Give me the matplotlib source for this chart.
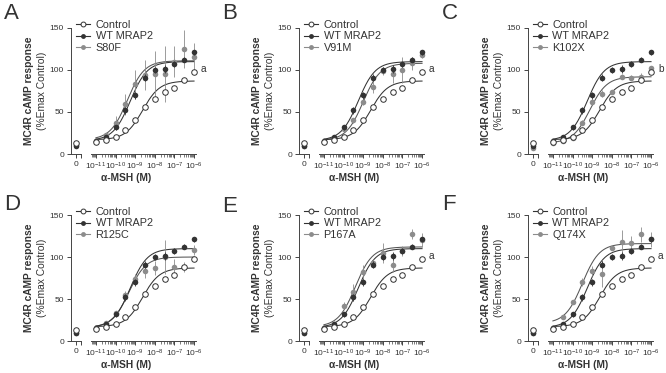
import numpy as np
import matplotlib
matplotlib.use('Agg')
import matplotlib.pyplot as plt
from matplotlib.lines import Line2D
from matplotlib.ticker import LogLocator, NullFormatter, FixedLocator

plt.rcParams['font.family'] = ['Liberation Sans', 'DejaVu Sans']
plt.rcParams['mathtext.fontset'] = 'custom'
plt.rcParams['mathtext.rm'] = 'Liberation Sans'
plt.rcParams['mathtext.bf'] = 'Liberation Sans:bold'

# ---------------- data ----------------
log_dose = [-11.0, -10.5, -10.0, -9.5, -9.0, -8.5, -8.0, -7.5, -7.0, -6.5, -6.0]

control = [14, 17, 20, 28, 41, 56, 66, 74, 79, 88, 98]
control_err = [1, 1, 1, 1, 2, 2, 1, 2, 1, 1, 1]
control_zero = 13
control_fit = (17, 87, -8.62)   # bottom, top, logEC50

wt = [15, 20, 32, 52, 70, 91, 100, 101, 107, 112, 121]
wt_err = [1, 2, 3, 4, 4, 4, 4, 5, 4, 3, 3]
wt_zero = 9
wt_fit = (16, 110, -9.25)

panel_letters = ['A', 'B', 'C', 'D', 'E', 'F']
mutant_names = ['S80F', 'V91M', 'K102X', 'R125C', 'P167A', 'Q174X']
mutant_values = [
    [16, 23, 37, 59, 83, 94, 95, 95, 110, 125, 115],
    [14, 18, 30, 40, 62, 80, 99, 95, 100, 108, 118],
    [13, 15, 19, 37, 62, 72, 74, 92, 91, 92, 102],
    [15, 21, 33, 55, 74, 83, 87, 100, 88, 88, 108],
    [16, 20, 42, 58, 82, 93, 105, 90, 107, 127, 120],
    [16, 28, 47, 70, 83, 80, 111, 118, 117, 127, 121],
]
mutant_errors = [
    [2, 2, 8, 12, 17, 18, 28, 33, 18, 23, 17],
    [1, 1, 2, 3, 4, 7, 5, 10, 15, 8, 4],
    [1, 1, 1, 3, 3, 4, 2, 3, 3, 4, 3],
    [1, 1, 3, 5, 6, 8, 8, 20, 10, 6, 6],
    [1, 1, 4, 10, 9, 5, 12, 8, 6, 6, 8],
    [1, 2, 2, 5, 6, 16, 3, 14, 8, 9, 9],
]
mutant_zero = [11, 10, 7, 9, 10, 9]
mutant_fits = [
    (17, 111, -9.4),
    (16, 108, -9.0),
    (13, 92, -9.12),
    (16, 100, -9.32),
    (17, 112, -9.4),
    (21, 116, -9.5),
]
annotations = ['a', 'a', 'b', '', 'a', 'a']

y_ticks = [0, 50, 100, 150]
x_tick_exps = [-11, -10, -9, -8, -7, -6]

# ---------------- layout (pixels) ----------------
W, H = 666, 373
fig = plt.figure(figsize=(W / 100, H / 100), dpi=100)

yaxis_x = [71, 299, 528, 71, 299, 528]
row_top = [28, 215]
row_bot = [154, 341]
letter_pos = [(4, 3), (222, 3), (442, 3), (4, 194), (222, 196), (442, 194)]

def px_axes(x0, y0, x1, y1):
    return fig.add_axes([x0 / W, 1 - y1 / H, (x1 - x0) / W, (y1 - y0) / H])

def fit_curve(params, xs):
    b, t, ec = params
    return b + (t - b) / (1 + 10 ** (ec - xs))

ctl_col = '#333333'
wt_col = '#333333'
mut_col = '#8c8c8c'
ms = 4.0

for i in range(6):
    r = i // 3
    yx = yaxis_x[i]
    y0, y1 = row_top[r], row_bot[r]

    az = px_axes(yx, y0, yx + 10, y1)
    al = px_axes(yx + 20, y0, yx + 125, y1)

    for ax in (az, al):
        ax.set_ylim(0, 150)
        ax.patch.set_alpha(0)
        for s in ('top', 'right'):
            ax.spines[s].set_visible(False)
        for s in ax.spines.values():
            s.set_linewidth(0.7)
            s.set_color('#444444')
        ax.tick_params(colors='#444444', width=0.7, length=3, labelsize=6,
                       labelcolor='#333333', pad=2)

    # zero segment
    az.set_xlim(-1.0, 1.0)
    az.set_xticks([0])
    az.set_xticklabels(['0'])
    az.set_xticks([1.0], minor=True)
    az.tick_params(axis='x', which='minor', length=3, width=0.7, colors='#444444')
    az.set_yticks(y_ticks)
    az.set_yticklabels([str(v) for v in y_ticks])

    # log segment
    al.spines['left'].set_visible(False)
    al.set_yticks([])
    al.set_xscale('log')
    al.set_xlim(10 ** -11.25, 10 ** -5.9)
    al.xaxis.set_major_locator(FixedLocator([10.0 ** e for e in x_tick_exps]))
    al.set_xticklabels([r'$\mathregular{10^{%d}}$' % e for e in x_tick_exps])
    al.xaxis.set_minor_locator(LogLocator(base=10, subs=np.arange(2, 10), numticks=20))
    al.xaxis.set_minor_formatter(NullFormatter())
    al.tick_params(axis='x', which='minor', length=1.8, width=0.5, colors='#444444')

    xd = 10.0 ** np.array(log_dose)
    xs = np.linspace(log_dose[0], log_dose[-1], 300)

    # curves
    al.plot(10 ** xs, fit_curve(mutant_fits[i], xs), color='#555555', lw=0.75, zorder=2)
    al.plot(10 ** xs, fit_curve(wt_fit, xs), color=wt_col, lw=0.75, zorder=2)
    al.plot(10 ** xs, fit_curve(control_fit, xs), color=ctl_col, lw=0.75, zorder=2)

    # points
    al.errorbar(xd, mutant_values[i], yerr=mutant_errors[i], fmt='o', color=mut_col,
                ms=ms, mew=0, elinewidth=0.6, capsize=1.5, capthick=0.6, zorder=3, clip_on=False)
    al.errorbar(xd, wt, yerr=wt_err, fmt='o', color=wt_col, ms=ms, mew=0,
                elinewidth=0.6, capsize=1.5, capthick=0.6, zorder=4, clip_on=False)
    al.errorbar(xd, control, yerr=control_err, fmt='o', color=ctl_col, mfc='white',
                mec=ctl_col, ms=ms, mew=0.7, elinewidth=0.6, capsize=1.5, capthick=0.6,
                zorder=5, clip_on=False)

    az.plot([0], [mutant_zero[i]], 'o', color=mut_col, ms=ms, mew=0, clip_on=False, zorder=3)
    az.plot([0], [wt_zero], 'o', color=wt_col, ms=ms, mew=0, clip_on=False, zorder=4)
    az.plot([0], [control_zero], 'o', mfc='white', mec=ctl_col, ms=ms, mew=0.7,
            clip_on=False, zorder=5)

    if annotations[i]:
        al.annotate(annotations[i], xy=(10 ** -5.9, 101), xytext=(5, 0),
                    textcoords='offset pixels', fontsize=7.3, color='#333333',
                    va='center', ha='left', annotation_clip=False)

    # legend
    handles = [
        Line2D([], [], color=ctl_col, lw=0.8, marker='o', mfc='white', mec=ctl_col, ms=3.5, mew=0.7),
        Line2D([], [], color=wt_col, lw=0.8, marker='o', ms=3.5, mew=0),
        Line2D([], [], color=mut_col, lw=0.8, marker='o', ms=3.5, mew=0),
    ]
    fig.legend(handles, ['Control', 'WT MRAP2', mutant_names[i]],
               loc='upper left', bbox_to_anchor=((yx + 5) / W, 1 - (y0 - 8) / H),
               frameon=False, fontsize=7.8, handlelength=1.3, handletextpad=0.5,
               labelspacing=0.12, borderpad=0, borderaxespad=0,
               labelcolor='#333333')

    # axis labels
    yc = (y0 + y1) / 2
    fig.text((yx - 42) / W, 1 - yc / H, 'MC4R cAMP response', rotation=90,
             fontsize=7.4, fontweight='bold', color='#333333', ha='center', va='center')
    fig.text((yx - 29) / W, 1 - yc / H, '(%Emax Control)', rotation=90,
             fontsize=7.4, color='#333333', ha='center', va='center')
    fig.text((yx + 55) / W, 1 - (y1 + 24) / H, 'α-MSH (M)', fontsize=7.4,
             fontweight='bold', color='#333333', ha='center', va='center')

    lx, ly = letter_pos[i]
    fig.text(lx / W, 1 - ly / H, panel_letters[i], fontsize=16, color='#333333',
             ha='left', va='top')

fig.savefig('out.png', dpi=100)
